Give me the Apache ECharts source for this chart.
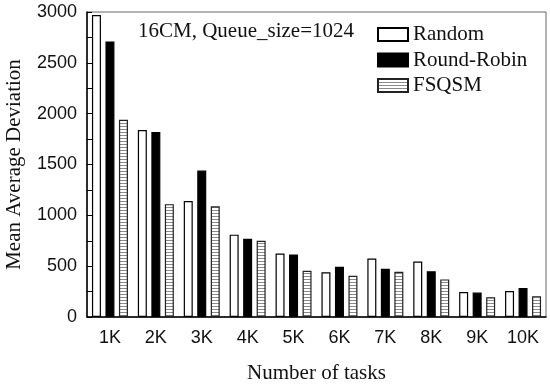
<!DOCTYPE html>
<html>
<head>
<meta charset="utf-8">
<script src="https://cdn.jsdelivr.net/npm/echarts@6/dist/echarts.min.js"></script>
<style>html,body{margin:0;padding:0;background:#fff;}#c{width:550px;height:384px;}</style>
</head>
<body>
<div id="c"></div>
<script>
const categories = ['1K','2K','3K','4K','5K','6K','7K','8K','9K','10K'];
const randomVals = [2970, 1840, 1140, 810, 625, 440, 575, 545, 245, 255];
const roundRobinVals = [2710, 1820, 1440, 770, 615, 495, 475, 450, 240, 285];
const fsqsmVals = [1940, 1110, 1090, 750, 455, 405, 445, 370, 195, 205];
const seriesNames = ['Random', 'Round-Robin', 'FSQSM'];
const yMax = 3000;
const yInterval = 500;

const pc = document.createElement('canvas');
pc.width = 4; pc.height = 3;
const pctx = pc.getContext('2d');
pctx.fillStyle = '#fff'; pctx.fillRect(0,0,4,3);
pctx.fillStyle = '#8a8a8a'; pctx.fillRect(0,0,4,1);

const serif = "'Liberation Serif', 'Times New Roman', serif";
const sans = "'Liberation Sans', Arial, sans-serif";

const chart = echarts.init(document.getElementById('c'), null, {renderer: 'canvas'});
const barBase = {type: 'bar', barWidth: 9, barGap: '50%'};
chart.setOption({
  animation: false,
  backgroundColor: '#fff',
  title: {
    text: '16CM, Queue_size=1024',
    left: 138, top: 21, padding: 0,
    textStyle: {fontFamily: serif, fontSize: 21, fontWeight: 'normal', color: '#111'}
  },
  legend: {
    orient: 'vertical', left: 377, top: 24, padding: 0,
    itemWidth: 30, itemHeight: 13, itemGap: 4.5, icon: 'rect',
    textStyle: {fontFamily: serif, fontSize: 21, color: '#111'},
    data: seriesNames
  },
  grid: {left: 87, right: 4, top: 12, bottom: 67, show: true, borderColor: '#666', borderWidth: 1,
    containLabel: false, outerBoundsMode: 'none'},
  xAxis: {
    type: 'category', data: categories,
    name: 'Number of tasks', nameLocation: 'middle', nameGap: 46,
    nameTextStyle: {fontFamily: serif, fontSize: 21, color: '#111'},
    axisLine: {lineStyle: {color: '#000', width: 1.5}},
    axisTick: {show: false},
    axisLabel: {fontFamily: sans, fontSize: 18, color: '#111', margin: 12}
  },
  yAxis: {
    type: 'value', min: 0, max: yMax, interval: yInterval,
    name: 'Mean Average Deviation', nameLocation: 'middle', nameGap: 62,
    nameTextStyle: {fontFamily: serif, fontSize: 21, color: '#111'},
    axisLine: {show: true, lineStyle: {color: '#000', width: 1.5}},
    axisTick: {show: true, inside: true, length: 5, lineStyle: {color: '#000'}},
    minorTick: {show: true, splitNumber: 2, length: 5, lineStyle: {color: '#000'}},
    splitLine: {show: false},
    axisLabel: {fontFamily: sans, fontSize: 18, color: '#111', margin: 10, formatter: v => String(v)}
  },
  series: [
    Object.assign({}, barBase, {name: seriesNames[0], data: randomVals,
      itemStyle: {color: '#fff', borderColor: '#000', borderWidth: 1.2}}),
    Object.assign({}, barBase, {name: seriesNames[1], data: roundRobinVals,
      itemStyle: {color: '#000', borderColor: '#000', borderWidth: 1.2}}),
    Object.assign({}, barBase, {name: seriesNames[2], data: fsqsmVals,
      itemStyle: {color: {image: pc, repeat: 'repeat'}, borderColor: '#222', borderWidth: 1.2}})
  ]
});
</script>
</body>
</html>
